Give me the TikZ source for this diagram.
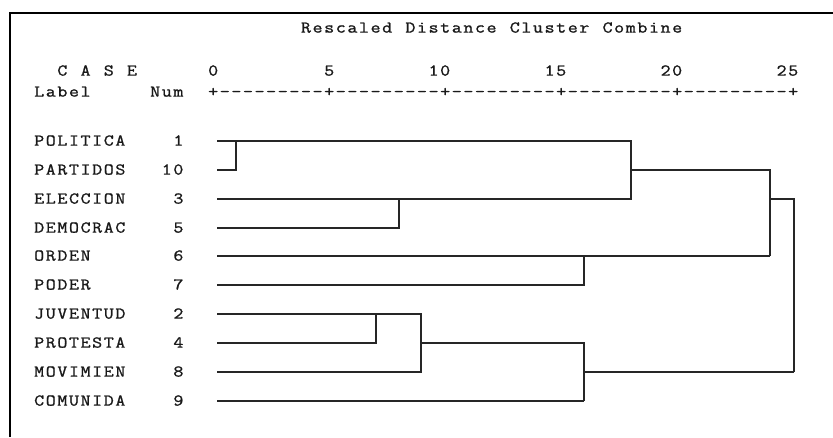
\documentclass[tikz,border=0pt]{standalone}
\usepackage{fontspec}
\setmonofont[FakeBold=1.2,FakeStretch=1.18]{Latin Modern Mono}
\newcommand\mytt[1]{\myttaux#1\relax}
\def\myttaux#1{\ifx#1\relax\else\makebox[11.6pt][c]{#1}\expandafter\myttaux\fi}
\tikzset{
  txt/.style={inner sep=0pt, anchor=base west, text=black!90,
    font=\ttfamily\fontsize{16.5}{16.5}\selectfont},
  dline/.style={line width=1.4pt, draw=black!85},
  frame/.style={line width=2.2pt, draw=black}
}
\begin{document}
\begin{tikzpicture}[x=1pt,y=-1pt]
\useasboundingbox (0,0) rectangle (833,437);
\draw[frame] (10,437) -- (10,13) -- (833,13);

% header texts
\node[txt] (title) at (300,32.6) {\mytt{Rescaled~Distance~Cluster~Combine}};
\node[txt] (case) at (56.4,75.6) {\mytt{C~A~S~E}};
\node[txt] (a0) at (207.2,75.6) {\mytt{0}};
\node[txt] (a5) at (323.2,75.6) {\mytt{5}};
\node[txt] (a10) at (427.6,75.6) {\mytt{10}};
\node[txt] (a15) at (543.6,75.6) {\mytt{15}};
\node[txt] (a20) at (659.6,75.6) {\mytt{20}};
\node[txt] (a25) at (775.6,75.6) {\mytt{25}};
\node[txt] (lab) at (33.2,96.6) {\mytt{Label}};
\node[txt] (num) at (149.2,96.6) {\mytt{Num}};
\node[txt] (axis) at (207.2,96.6) {\mytt{+---------+---------+---------+---------+---------+}};

% case labels
\node[txt] (n0) at (33.2,145.6) {\mytt{POLITICA}};
\node[txt] (n1) at (33.2,174.6) {\mytt{PARTIDOS}};
\node[txt] (n2) at (33.2,203.6) {\mytt{ELECCION}};
\node[txt] (n3) at (33.2,232.6) {\mytt{DEMOCRAC}};
\node[txt] (n4) at (33.2,260.6) {\mytt{ORDEN}};
\node[txt] (n5) at (33.2,289.6) {\mytt{PODER}};
\node[txt] (n6) at (33.2,318.6) {\mytt{JUVENTUD}};
\node[txt] (n7) at (33.2,347.6) {\mytt{PROTESTA}};
\node[txt] (n8) at (33.2,376.6) {\mytt{MOVIMIEN}};
\node[txt] (n9) at (33.2,405.6) {\mytt{COMUNIDA}};
% case numbers
\node[txt] (m0) at (172.4,145.6) {\mytt{1}};
\node[txt] (m1) at (160.8,174.6) {\mytt{10}};
\node[txt] (m2) at (172.4,203.6) {\mytt{3}};
\node[txt] (m3) at (172.4,232.6) {\mytt{5}};
\node[txt] (m4) at (172.4,260.6) {\mytt{6}};
\node[txt] (m5) at (172.4,289.6) {\mytt{7}};
\node[txt] (m6) at (172.4,318.6) {\mytt{2}};
\node[txt] (m7) at (172.4,347.6) {\mytt{4}};
\node[txt] (m8) at (172.4,376.6) {\mytt{8}};
\node[txt] (m9) at (172.4,405.6) {\mytt{9}};

% leaf starts
\coordinate (l0) at (217,141);
\coordinate (l1) at (217,170);
\coordinate (l2) at (217,199);
\coordinate (l3) at (217,228);
\coordinate (l4) at (217,256);
\coordinate (l5) at (217,285);
\coordinate (l6) at (217,314);
\coordinate (l7) at (217,343);
\coordinate (l8) at (217,372);
\coordinate (l9) at (217,401);
% join positions
\coordinate (jA) at (236,155);
\coordinate (jB) at (399,213);
\coordinate (jC) at (631,170);
\coordinate (jD) at (584,270);
\coordinate (jE) at (770,213);
\coordinate (jF) at (376,328);
\coordinate (jG) at (421,343);
\coordinate (jH) at (584,372);
\coordinate (jI) at (794,285);

% dendrogram
\draw[dline] (l1) -| (jA |- l0);
\draw[dline] (l0) -- (l0 -| jC) -- (l2 -| jC) -- (l2);
\draw[dline] (l3) -| (jB |- l2);
\draw[dline] (jC |- l1) -| (jE |- l4);
\draw[dline] (l4) -- (l4 -| jE);
\draw[dline] (l5) -| (jD |- l4);
\draw[dline] (jE |- l2) -| (jI |- l8);
\draw[dline] (l6) -- (l6 -| jG) -- (l8 -| jG) -- (l8);
\draw[dline] (l7) -| (jF |- l6);
\draw[dline] (jG |- l7) -| (jH |- l9);
\draw[dline] (l9) -- (l9 -| jH);
\draw[dline] (jH |- l8) -- (jI |- l8);
\end{tikzpicture}
\end{document}
